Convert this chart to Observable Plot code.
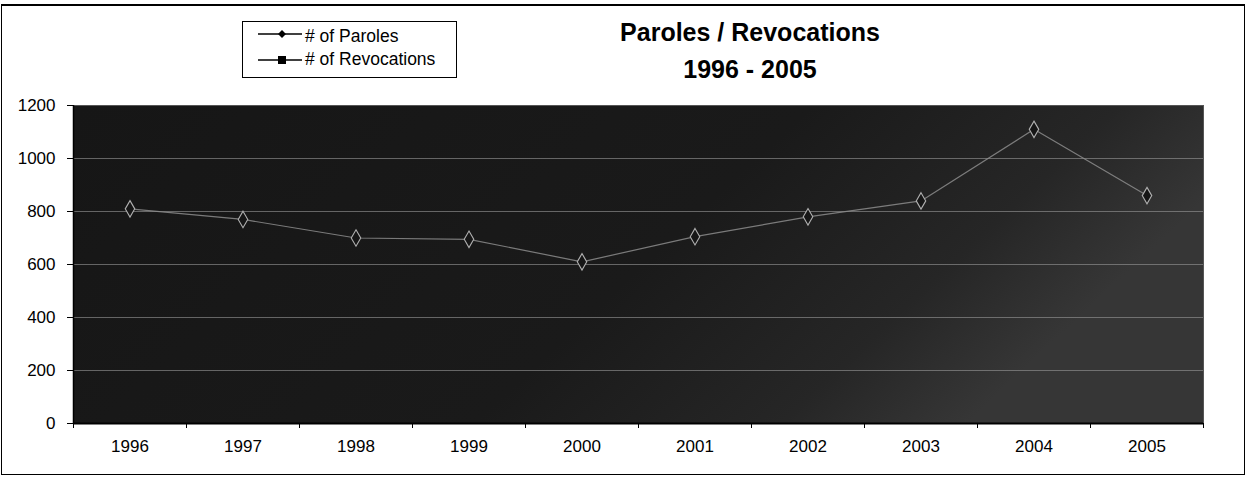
<!DOCTYPE html>
<html><head><meta charset="utf-8">
<script src="https://cdn.jsdelivr.net/npm/d3@7"></script>
<script src="https://cdn.jsdelivr.net/npm/@observablehq/plot@0.6"></script>
<style>
body{margin:0;background:#fff;font-family:"Liberation Sans",Arial,sans-serif;}
#wrap{position:relative;width:1247px;height:483px;overflow:hidden;background:#fff;}
#chart{position:absolute;left:0;top:0;}
.outer{position:absolute;left:1px;top:4px;width:1244px;height:471px;border:1px solid #000;border-top-width:2px;box-sizing:border-box;}
.title{position:absolute;left:550px;width:400px;text-align:center;font-weight:bold;font-size:25px;line-height:25px;color:#000;white-space:nowrap;}
.legend{position:absolute;left:242px;top:21px;width:215px;height:57px;border:1px solid #000;box-sizing:border-box;background:#fff;}
.ltext{position:absolute;font-size:17.5px;line-height:17px;color:#000;white-space:nowrap;}
.lsym{position:absolute;}
</style>
</head><body>
<div id="wrap">
  <div class="outer"></div>
  <div id="chart"></div>
  <div class="title" id="t1" style="top:20px;"></div>
  <div class="title" id="t2" style="top:57px;"></div>
  <div class="legend"></div>
  <svg class="lsym" style="left:256px;top:26px" width="48" height="40" id="legsym"></svg>
  <div class="ltext" id="l1" style="left:305px;top:28px;"></div>
  <div class="ltext" id="l2" style="left:305px;top:51px;"></div>
</div>
<script>
// ---- data ----
const titleLines = ["Paroles / Revocations", "1996 - 2005"];
const seriesNames = ["# of Paroles", "# of Revocations"];
const years = [1996, 1997, 1998, 1999, 2000, 2001, 2002, 2003, 2004, 2005];
const paroles = [810, 770, 700, 695, 610, 705, 780, 840, 1110, 860];
const yTicks = [0, 200, 400, 600, 800, 1000, 1200];

const data = years.map((y, i) => ({year: y, value: paroles[i]}));
const bandEdges = d3.range(years[0] - 0.5, years[years.length - 1] + 1, 1);

const plot = Plot.plot({
  width: 1247, height: 483,
  marginLeft: 73, marginRight: 44, marginTop: 105, marginBottom: 60,
  style: {fontFamily: "'Liberation Sans', Arial, sans-serif", fontSize: "17px", color: "#000", background: "transparent", overflow: "visible"},
  x: {type: "linear", domain: [years[0] - 0.5, years[years.length - 1] + 0.5], label: null},
  y: {domain: [yTicks[0], yTicks[yTicks.length - 1]], label: null},
  marks: [
    Plot.frame({fill: "url(#bgGrad)", stroke: "#555"}),
    Plot.gridY(yTicks.slice(1, -1), {stroke: "#9a9a9a", strokeOpacity: 0.6, strokeWidth: 1}),
    Plot.axisY(yTicks, {label: null, tickSize: 6, tickPadding: 12, tickFormat: d => String(d), stroke: "#000", fill: "#000"}),
    Plot.axisX(bandEdges, {label: null, tickSize: 5, tickFormat: () => "", stroke: "#000"}),
    Plot.axisX(years, {label: null, tickSize: 0, tickPadding: 16, tickFormat: d => String(d), fill: "#000"}),
    Plot.ruleY([yTicks[0]], {stroke: "#000", strokeWidth: 2}),
    Plot.ruleX([bandEdges[0]], {stroke: "#000", strokeWidth: 1.5}),
    Plot.line(data, {x: "year", y: "value", stroke: "#8c8c8c", strokeWidth: 1.2, strokeOpacity: 0.85}),
    Plot.dot(data, {x: "year", y: "value", symbol: "diamond", r: 5, stroke: "#b0b0b0", strokeWidth: 1.1, fill: "#161616"})
  ]
});

// background gradient for the dark plot area
const ns = "http://www.w3.org/2000/svg";
const defs = document.createElementNS(ns, "defs");
defs.innerHTML = `<linearGradient id="bgGrad" x1="0" y1="0" x2="1" y2="0.3">
  <stop offset="0" stop-color="#161616"/>
  <stop offset="0.6" stop-color="#1a1a1a"/>
  <stop offset="0.85" stop-color="#262626"/>
  <stop offset="1" stop-color="#363636"/>
</linearGradient>`;
plot.insertBefore(defs, plot.firstChild);
document.getElementById("chart").appendChild(plot);

document.getElementById("t1").textContent = titleLines[0];
document.getElementById("t2").textContent = titleLines[1];
document.getElementById("l1").textContent = seriesNames[0];
document.getElementById("l2").textContent = seriesNames[1];

const sym = d3.select("#legsym");
sym.append("line").attr("x1", 2).attr("x2", 46).attr("y1", 8).attr("y2", 8).attr("stroke", "#000").attr("stroke-width", 1.5);
sym.append("path").attr("d", d3.symbol(d3.symbolDiamond2, 40)()).attr("transform", "translate(26,8)").attr("fill", "#000");
sym.append("line").attr("x1", 2).attr("x2", 46).attr("y1", 34).attr("y2", 34).attr("stroke", "#000").attr("stroke-width", 1.5);
sym.append("rect").attr("x", 22).attr("y", 30).attr("width", 8).attr("height", 8).attr("fill", "#000");
</script>
</body></html>
